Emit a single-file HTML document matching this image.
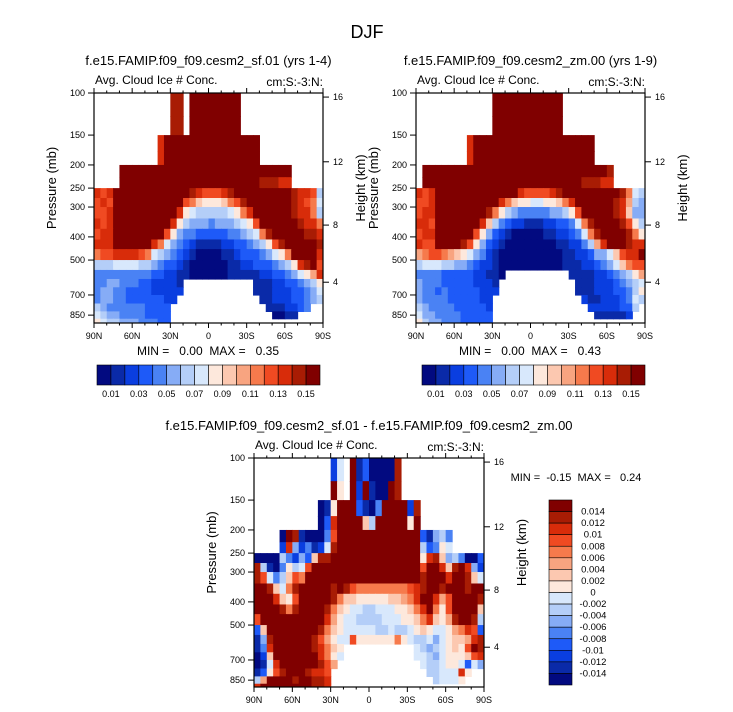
<!DOCTYPE html>
<html><head><meta charset="utf-8">
<style>
html,body{margin:0;padding:0;background:#fff;}
svg{display:block;font-family:"Liberation Sans",Arial,sans-serif;}
.pre{white-space:pre;}
</style></head>
<body>
<svg id="fig" width="733" height="712" viewBox="0 0 733 712" xmlns="http://www.w3.org/2000/svg">
<rect x="0" y="0" width="733" height="712" fill="#fff"/>
<text x="367" y="38" font-size="18" text-anchor="middle">DJF</text>
<g id="plots"></g>
</svg>
<script>
// ---- data ----
const pressureLevels = [100,125,150,175,200,225,250,275,300,335,370,410,450,500,550,600,650,700,760,820,880,920];
const nLat = 36;
const pressureTicks = [100,150,200,250,300,400,500,700,850];
const latTickLabels = ["90N","60N","30N","0","30S","60S","90S"];
const heightTicks = [4,8,12,16];
const heightTickPressure = [619,357,194,104];
const topBarLabels = ["0.01","0.03","0.05","0.07","0.09","0.11","0.13","0.15"];
const diffBarLabels = ["0.014","0.012","0.01","0.008","0.006","0.004","0.002","0","-0.002","-0.004","-0.006","-0.008","-0.01","-0.012","-0.014"];
const palette = ["#020a80","#0a2aa8","#0a3ee0","#1e5af8","#4a82f4","#86acf6","#b4cef8","#d8e8fc","#fde8dc","#fcc8b0","#f8a480","#f67a4c","#f04a22","#d82c0a","#a81c04","#800000"];

const tlRows = [
"............ee.ffffffff.............",
"............ee.ffffffff.............",
"..........dfffffffffffffff..........",
"..........dfffffffffffffff..........",
"....fffffffffffffffffffffffffff.....",
"....ffffffffffffffffffffffeeedd.....",
"dcdffffffffffffedcccdefffffffffeddc6",
"cdcfffffffffffcb98889bcefffffffedcb7",
"ccdffffffffffd876666678bdffffffeddb6",
"dcdfffffffffd865554555678cffffffeddb",
"cddffffffffc85443333344567befffffeed",
"dddffffffdb75432111122334568cefffffe",
"bccddddcb765432100001123334578bffffd",
"66677776654332100000011223334568defc",
"4444444443322110000001111122334578ad",
"44554443322221...........11122334568",
"45544333322222...........11122233457",
"4554433333322.............1122233456",
"654444443333...............1112234..",
"765544443333................0011....",
"876655544433........................"];

const trRows = [
"............fffffffffff.............",
"............fffffffffff.............",
"........dfffffffffffffffffff........",
"........dfffffffffffffffffff........",
".fffffffffffffffffffffffffffffe.....",
".fffffffffffffffffffffffffeeedd.....",
"dcdfffffffffffffdccccdefffffffffeb76",
"ccdffffffffffdb98877889bdffffffeda65",
"cddffffffffeb865444445568cfffffed955",
"ddcfffffffd964322111223347beffffec86",
"cddffffffc85321000001122347beffffeb8",
"dccffffec8532100000000112246adfffedd",
"abccba98754210000000000112235579cddf",
"677766554322100000000001112234579bcc",
"44443333322110..........11112234568a",
"5444333332221............11122234567",
"5443433333222............11122233468",
"544443333322..............2112223476",
"654444333332...............22222336.",
"755444433333................111112..",
"865544433333........................"];

const bdRows = [
"............27.f130000e.............",
"............f8.f2f100fe.............",
"..........018fff3104ffff2e..........",
"..........03dffff96fffff8f..........",
"....0fe10004cfffffffffffff31564.....",
"....2d524127efffffffffffff63487.....",
"0000642539eeffffffffffffff8de9564003",
"e6104867cfffffffffffffffffcffd9efd52",
"ec7469cbffffffffffffffffffefffdffe97",
"ffe97befffffefecbbbbbbbbcdeffefffeffa",
"fffd98cfffffeb998888899abdffdacffffe",
"ffffebeffffeb987766777889bdfb8cffff9",
"cffffffffffda8776666777889bd98aeffe6",
"39ffffffffeb9877777667667898778abdc3",
"15effffffeca877c888888b8766757899ade",
"14dffffffedb98...........76567898cfe",
"029fffffffdb87...........776578889cd",
"017dffffffeca.............7667887375",
"138cefffeddc...............66777d8..",
"6affffeffeed................67778...",
"dffffffffeed........................"];

// ---- drawing ----
const NS = "http://www.w3.org/2000/svg";
const root = document.getElementById("plots");
function el(tag, attrs, parent){const e=document.createElementNS(NS,tag);for(const k in attrs)e.setAttribute(k,attrs[k]);(parent||root).appendChild(e);return e;}
function txt(s, attrs, parent){const e=el("text",attrs,parent);e.textContent=s;return e;}

function drawPanel(rows, x0, y0, w, h, opts){
  const g = el("g",{});
  
  
  const xS = lat => x0 + (90 - lat) / 180 * w;
  const yS = p => y0 + Math.log10(p / 100) * 239;
  const clipId = opts.name + "-clip";
  const cp = el("clipPath",{id:clipId},g); el("rect",{x:x0,y:y0,width:w,height:h},cp);
  const cells = el("g",{"clip-path":"url(#"+clipId+")"},g);
  
  
  for(let r=0;r<rows.length && r<pressureLevels.length-1;r++){
    let row = (rows[r] + ".".repeat(nLat)).slice(0,nLat);
    const ya = yS(pressureLevels[r]), yb = yS(pressureLevels[r+1]);
    for(let c=0;c<nLat;c++){
      const ch = row[c]; if(ch===".") continue;
      const v = parseInt(ch,16); if(isNaN(v)) continue;
      const xa = xS(90 - c*180/nLat), xb = xS(90 - (c+1)*180/nLat);
      const cell = el("rect",{x:xa.toFixed(2),y:ya.toFixed(2),width:(xb-xa+0.6).toFixed(2),height:(yb-ya+0.6).toFixed(2),fill:palette[v]},cells);
      
      
    }
  }
  el("rect",{x:x0,y:y0,width:w,height:h,fill:"none",stroke:"#000","stroke-width":1.2},g);
  for(let lat=90;lat>=-90;lat-=10){
    const x=xS(lat), major = lat%30===0;
    el("line",{x1:x,x2:x,y1:y0+h,y2:y0+h+(major?5:2.5),stroke:"#000","stroke-width":1},g);
    el("line",{x1:x,x2:x,y1:y0,y2:y0-(major?5:2.5),stroke:"#000","stroke-width":1},g);
  }
  latTickLabels.forEach((s,i)=>{
    const t=txt(s,{x:xS(90-i*30),y:y0+h+16,"font-size":9,"text-anchor":"middle"},g);
    
    
  });
  pressureTicks.forEach(p=>{
    const y=yS(p);
    el("line",{x1:x0-6,x2:x0,y1:y,y2:y,stroke:"#000","stroke-width":1},g);
    const t=txt(String(p),{x:x0-9,y:y+3,"font-size":9,"text-anchor":"end"},g);
    
    
  });
  heightTicks.forEach((z,i)=>{
    const y=yS(heightTickPressure[i]);
    el("line",{x1:x0+w,x2:x0+w+6,y1:y,y2:y,stroke:"#000","stroke-width":1},g);
    const t=txt(String(z),{x:x0+w+10,y:y+3,"font-size":9},g);
    
    
  });
  const yt=txt("Pressure (mb)",{x:0,y:0,"font-size":13,"text-anchor":"middle",transform:"translate("+(x0-38)+","+(y0+h/2-20)+") rotate(-90)"},g);
  
  
  const ht=txt("Height (km)",{x:0,y:0,"font-size":13,"text-anchor":"middle",transform:"translate("+(x0+w+42)+","+(y0+h/2-20)+") rotate(-90)"},g);
  
  
  const l1=txt("Avg. Cloud Ice # Conc.",{x:x0+1,y:y0-9,"font-size":12},g);
  
  
  const l2=txt("cm:S:-3:N:",{x:x0+w,y:y0-7,"font-size":12,"text-anchor":"end"},g);
  
  
  const tt=txt(opts.title,{x:x0+w/2,y:y0-28,"font-size":13,"text-anchor":"middle"},g);
  
  
  return g;
}

function hBar(x0,y0,w,h,name){
  const g=el("g",{});
  
  
  const bw=w/16;
  palette.forEach((c,i)=>{
    const b=el("rect",{x:x0+i*bw,y:y0,width:bw,height:h,fill:c,stroke:"#000","stroke-width":0.6},g);
    
    
  });
  topBarLabels.forEach((s,i)=>{
    const t=txt(s,{x:x0+(2*i+1)*bw,y:y0+h+12,"font-size":9,"text-anchor":"middle"},g);
    
    
  });
}
function vBar(x0,y0,w,h,name){
  const g=el("g",{});
  
  
  const bh=h/16;
  palette.slice().reverse().forEach((c,i)=>{
    const b=el("rect",{x:x0,y:y0+i*bh,width:w,height:bh,fill:c,stroke:"#000","stroke-width":0.6},g);
    
    
  });
  diffBarLabels.forEach((s,i)=>{
    const t=txt(s,{x:x0+w+21,y:y0+(i+1)*bh+3,"font-size":9.5,"text-anchor":"middle"},g);
    
    
  });
}

drawPanel(tlRows, 94, 93, 229, 230, {name:"panel-sf01", title:"f.e15.FAMIP.f09_f09.cesm2_sf.01 (yrs 1-4)"});
drawPanel(trRows, 416, 93, 229, 230, {name:"panel-zm00", title:"f.e15.FAMIP.f09_f09.cesm2_zm.00 (yrs 1-9)"});
drawPanel(bdRows, 254, 458, 230, 229, {name:"panel-difference", title:"f.e15.FAMIP.f09_f09.cesm2_sf.01 - f.e15.FAMIP.f09_f09.cesm2_zm.00"});

const m1=txt("MIN =   0.00  MAX =   0.35",{x:208,y:355,"font-size":12,"text-anchor":"middle","class":"pre"});


const m2=txt("MIN =   0.00  MAX =   0.43",{x:530,y:355,"font-size":12,"text-anchor":"middle","class":"pre"});


const m3=txt("MIN =  -0.15  MAX =   0.24",{x:576,y:481,"font-size":11,"text-anchor":"middle","class":"pre"});



hBar(97,365,223,20,"colorbar-sf01");
hBar(422,365,223,20,"colorbar-zm00");
vBar(549,500,23,185,"colorbar-difference");
</script>
</body></html>
